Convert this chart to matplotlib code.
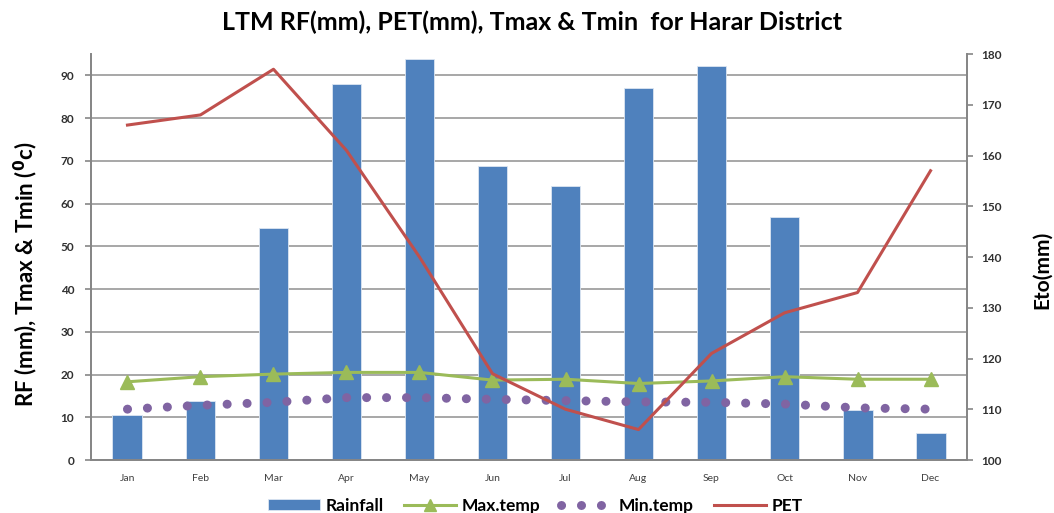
import matplotlib.pyplot as plt

# Long-term monthly means, Harar district
months = ['Jan', 'Feb', 'Mar', 'Apr', 'May', 'Jun', 'Jul', 'Aug', 'Sep', 'Oct', 'Nov', 'Dec']
rainfall = [10.6, 13.9, 54.2, 88.0, 93.9, 68.7, 64.1, 87.0, 92.3, 56.8, 11.7, 6.4]
max_temp = [18.3, 19.5, 20.1, 20.5, 20.5, 18.7, 18.9, 17.9, 18.5, 19.5, 18.9, 18.9]
min_temp = [11.9, 12.8, 13.5, 14.6, 14.6, 14.2, 13.9, 13.6, 13.5, 13.1, 12.2, 11.9]
pet = [166, 168, 177, 161, 140, 117, 110, 106, 121, 129, 133, 157]

plt.rcParams['font.family'] = ['Lato', 'DejaVu Sans']

BLUE = '#4F81BD'
GREEN = '#9BBB59'
PURPLE = '#8064A2'
RED = '#C0504D'
GRID = '#A0A0A0'
AXIS = '#868686'

fig = plt.figure(figsize=(10.54, 5.13), dpi=100)
ax = fig.add_axes([0.0863, 0.1033, 0.8312, 0.7914])
ax2 = ax.twinx()

x = list(range(len(months)))

bars = ax.bar(x, rainfall, width=0.41, color=BLUE, edgecolor='#DCE6F2',
              linewidth=0.6, label='Rainfall', zorder=2)
l_max, = ax.plot(x, max_temp, color=GREEN, lw=2.2, marker='^', ms=10,
                 label='Max.temp', zorder=3)
l_min, = ax.plot(x, min_temp, color=PURPLE, lw=6.5, ls=(0, (0.01, 2.2)),
                 dash_capstyle='round', label='Min.temp', zorder=3)
l_pet, = ax2.plot(x, pet, color=RED, lw=2.2, label='PET', zorder=4)

ax.set_xlim(-0.5, 11.5)
ax.set_ylim(0, 95)
ax.set_yticks(range(0, 100, 10))
ax2.set_ylim(100, 180)
ax2.set_yticks(range(100, 190, 10))

ax.set_xticks(x)
ax.set_xticklabels(months, fontsize=7.5, color='#404040')
ax.tick_params(axis='x', length=0, pad=10)
ax.tick_params(axis='y', length=4, width=1.2, color=AXIS, pad=8,
               labelsize=8.5, labelcolor='#303030')
ax2.tick_params(axis='y', length=4, width=1.2, color=AXIS, pad=6,
                labelsize=8.5, labelcolor='#303030')
for lab in ax.get_yticklabels() + ax2.get_yticklabels():
    lab.set_fontweight('bold')

ax.grid(axis='y', color=GRID, lw=1.3)
ax.set_axisbelow(True)

for a in (ax, ax2):
    a.spines['top'].set_visible(False)
    for s in ('left', 'right', 'bottom'):
        a.spines[s].set_color(AXIS)
        a.spines[s].set_linewidth(1.3)
ax2.patch.set_visible(False)

fig.text(0.505, 0.957, 'LTM RF(mm), PET(mm), Tmax & Tmin  for Harar District',
         ha='center', va='center', fontsize=18, fontweight='bold')
fig.text(0.024, 0.465, 'RF (mm), Tmax & Tmin ($\\mathbf{^{0}}$c)', rotation=90,
         ha='center', va='center', fontsize=16, fontweight='bold')
fig.text(0.989, 0.474, 'Eto(mm)', rotation=90, ha='center', va='center',
         fontsize=15, fontweight='bold')

fig.legend([bars, l_max, l_min, l_pet], ['Rainfall', 'Max.temp', 'Min.temp', 'PET'],
           loc='center', bbox_to_anchor=(0.508, 0.014), ncol=4, frameon=False,
           prop={'weight': 'bold', 'size': 12.5}, handlelength=3.0, handleheight=0.6,
           columnspacing=1.2, handletextpad=0.3, markerscale=0.8)

fig.savefig('out.png', dpi=100)
